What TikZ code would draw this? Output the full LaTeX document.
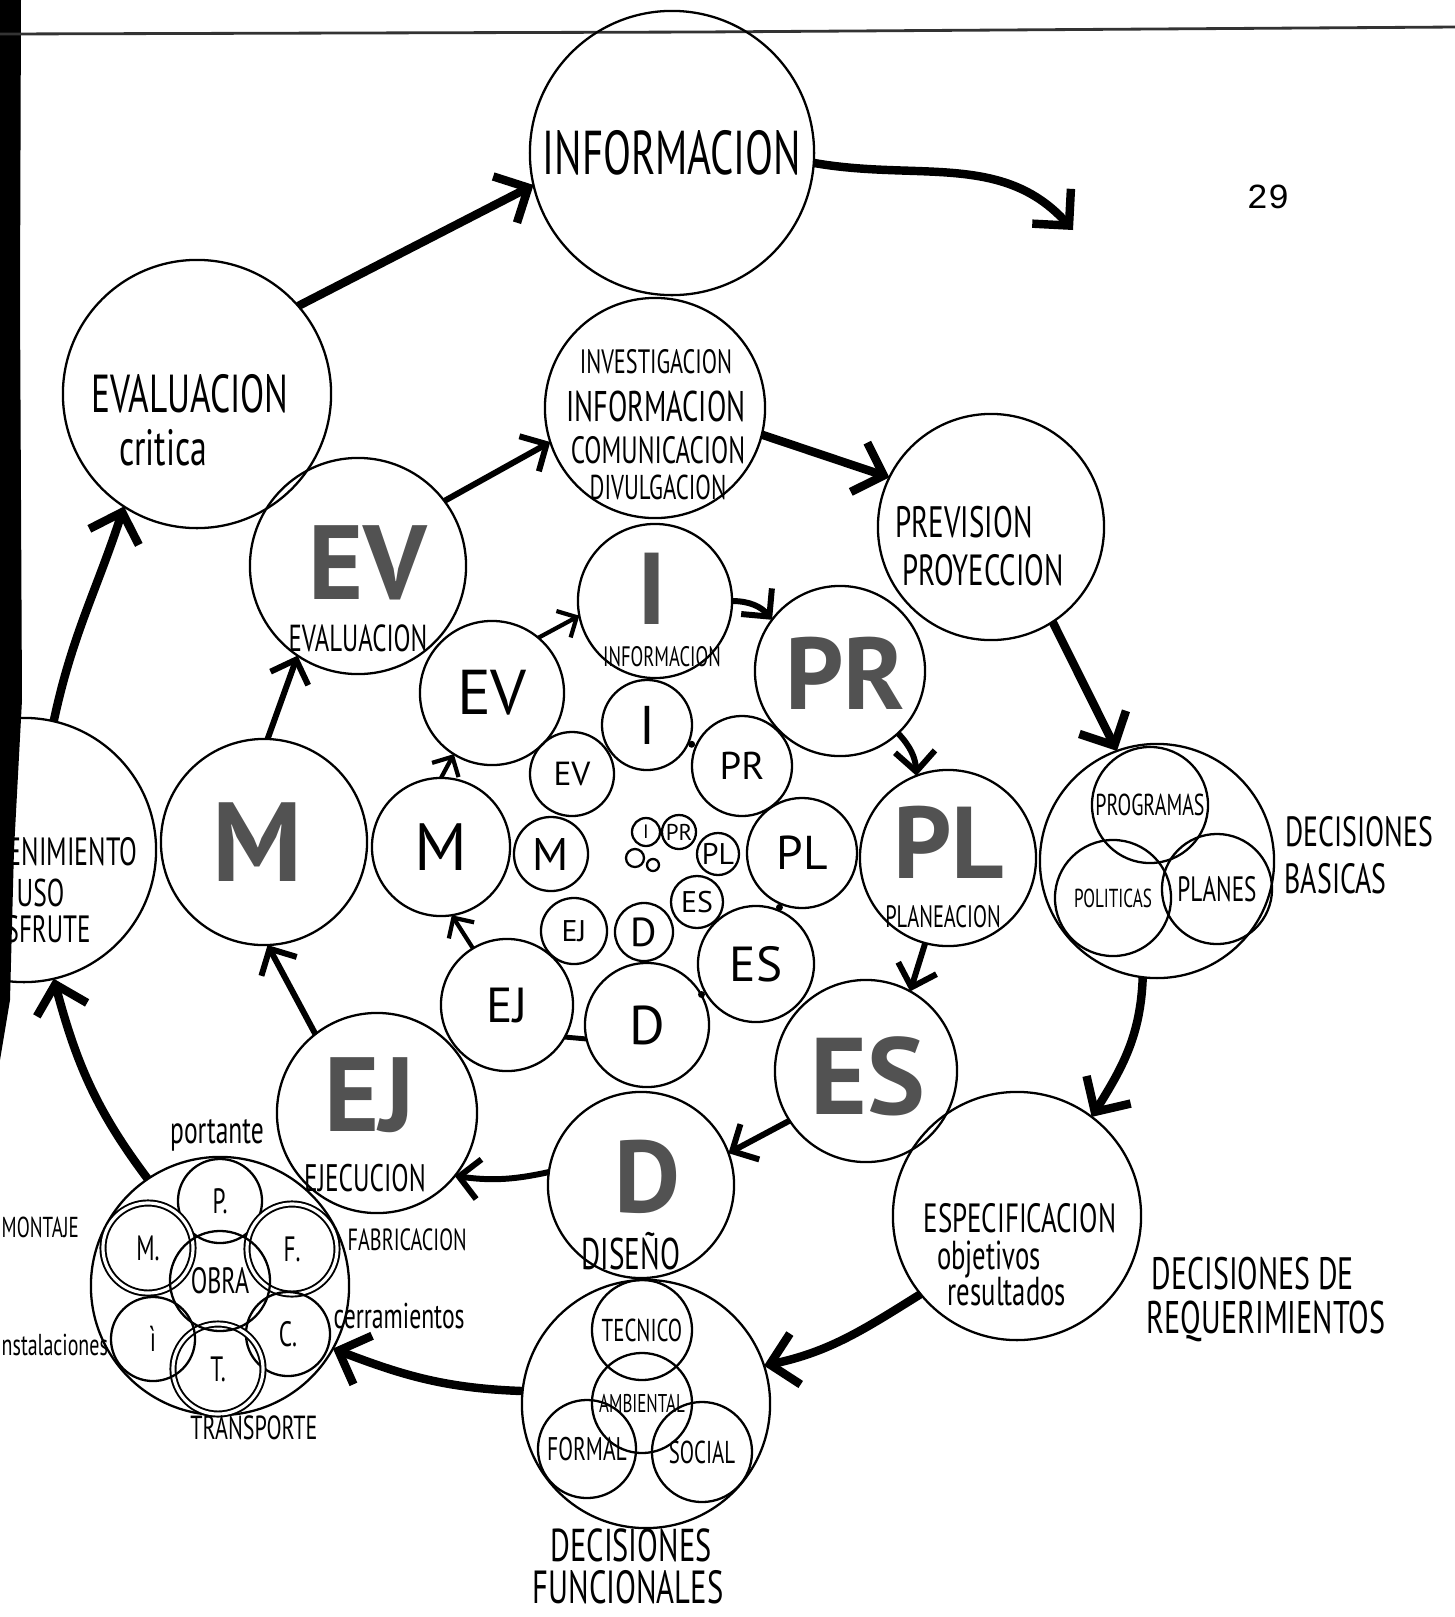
\documentclass[tikz,border=0pt]{standalone}
\usepackage{fontspec}
\setmainfont{PT Sans}[FakeStretch=0.66]
\newfontfamily\plainfont{PT Sans}
\newfontfamily\numfont{Liberation Mono}
\usetikzlibrary{arrows.meta,calc}
\newcommand\sz[1]{\fontsize{#1}{#1}\selectfont}

\begin{document}
\begin{tikzpicture}[x=0.01cm, y=0.01cm,
  ring/.style={draw, circle, inner sep=0pt, outer sep=0pt, line width=0.65pt},
  rad/.style={minimum size=#1*0.02cm},
  dbl/.style={double, double distance=0.9pt, line width=0.55pt},
  txt/.style={inner sep=0pt, font=\sz{#1}},
  ltr/.style={inner sep=0pt, font=\plainfont\sz{#1}},
  hatch/.style={inner sep=0pt, font=\plainfont\bfseries\sz{#1}, text=black!68},
  hatch/.default=31,
  outarr/.style={line width=2.4pt, -{Straight Barb[length=2.6mm, width=5.2mm]}},
  ringarr/.style={line width=1.7pt, -{Straight Barb[length=2mm, width=4mm]}},
  innarr/.style={line width=1.2pt, -{Straight Barb[length=1.5mm, width=3mm]}},
]
\useasboundingbox (0,0) rectangle (1455,-1617);
\clip (0,0) rectangle (1455,-1617);

% edge of the scanned page
\fill (0,0) -- (21,0) -- (20,-300) -- (22,-700) -- (14,-850) -- (10,-1000) -- (0,-1060) -- cycle;
\draw[line width=0.8pt, black!80] (0,-34) -- (700,-32) -- (1455,-27);
\node (pagenum) [font=\numfont\sz{10}] at (1268,-197) {29};

% outer ring
\node (info) [ring, rad=142, txt=17.6] at (672,-153) {INFORMACION};

\node (evalc) [ring, rad=134] at (197,-394) {};
\node (evalct1) [txt=15.2] at (190,-394) {EVALUACION};
\node (evalct2) [txt=14.5] at (163,-448) {critica};

\node (invest) [ring, rad=110] at (655,-408) {};
\node (investt1) [txt=9.6] at (656,-362) {INVESTIGACION};
\node (investt2) [txt=12.2] at (656,-406) {INFORMACION};
\node (investt3) [txt=10.8] at (658,-450) {COMUNICACION};
\node (investt4) [txt=9.8] at (658,-487) {DIVULGACION};

\node (prev) [ring, rad=113] at (991,-527) {};
\node (prevt1) [txt=12.5] at (964,-522) {PREVISION};
\node (prevt2) [txt=12.4] at (983,-570) {PROYECCION};

\node (basic) [ring, rad=117] at (1157,-861) {};
\node (prog) [ring, rad=58, txt=8.6] at (1150,-805) {PROGRAMAS};
\node (polit) [ring, rad=58, txt=7.4] at (1113,-898) {POLITICAS};
\node (planes) [ring, rad=55, txt=10] at (1217,-889) {PLANES};
\node (basict1) [txt=12, anchor=west] at (1285,-832) {DECISIONES};
\node (basict2) [txt=12, anchor=west] at (1284,-879) {BASICAS};

\node (espec) [ring, rad=124] at (1017,-1216) {};
\node (espect1) [txt=11.6] at (1020,-1218) {ESPECIFICACION};
\node (espect2) [txt=11.5] at (989,-1259) {objetivos};
\node (espect3) [txt=11.5] at (1007,-1292) {resultados};
\node (requt1) [txt=12.9, anchor=west] at (1151,-1274) {DECISIONES DE};
\node (requt2) [txt=13, anchor=west] at (1146,-1321) {REQUERIMIENTOS};

\node (func) [ring, rad=124] at (646,-1404) {};
\node (tecn) [ring, rad=50, txt=9] at (642,-1330) {TECNICO};
\node (ambi) [ring, rad=50, txt=7.3] at (642,-1403) {AMBIENTAL};
\node (form) [ring, rad=49, txt=9.3] at (587,-1449) {FORMAL};
\node (soci) [ring, rad=50, txt=9] at (702,-1452) {SOCIAL};
\node (funct1) [txt=13.1] at (631,-1545) {DECISIONES};
\node (funct2) [txt=13.2] at (628,-1587) {FUNCIONALES};

\node (obra) [ring, rad=129] at (220,-1286) {};
\node (op) [ring, rad=42, txt=10] at (220,-1201) {P.};
\node (om) [ring, dbl, rad=45, txt=10] at (148,-1248) {M.};
\node (of) [ring, dbl, rad=45, txt=10] at (292,-1249) {F.};
\node (oc) [ring, rad=42, txt=10] at (288,-1334) {C.};
\node (ot) [ring, dbl, rad=45, txt=10] at (218,-1369) {T.};
\node (oi) [ring, rad=42, txt=10] at (153,-1339) {ì};
\node (oo) [ring, rad=50, txt=10.4] at (220,-1281) {OBRA};
\node (obrat1) [txt=11] at (217,-1135) {portante};
\node (obrat2) [txt=8.2, anchor=west] at (1,-1227) {MONTAJE};
\node (obrat3) [txt=8.6, anchor=west] at (1,-1345) {nstalaciones};
\node (obrat4) [txt=8.7, anchor=west] at (347,-1240) {FABRICACION};
\node (obrat5) [txt=10.2, anchor=west] at (333,-1316) {cerramientos};
\node (obrat6) [txt=9.5] at (254,-1428) {TRANSPORTE};

\node (mant) [ring, rad=132] at (24,-850) {};
\node (mantt1) [txt=11.2, anchor=west] at (7,-852) {ENIMIENTO};
\node (mantt2) [txt=11, anchor=west] at (16,-893) {USO};
\node (mantt3) [txt=10.8, anchor=west] at (5,-929) {SFRUTE};

% second ring, hatched letters
\node (ev2) [ring, rad=108] at (358,-566) {};
\node (ev2l) [hatch=30] at (368,-563) {EV};
\node (ev2t) [txt=10.7] at (358,-638) {EVALUACION};
\node (i2) [ring, rad=77] at (655,-601) {};
\node (i2l) [hatch=29] at (652,-589) {I};
\node (i2t) [txt=8] at (662,-657) {INFORMACION};
\node (pr2) [ring, rad=85] at (840,-671) {};
\node (pr2l) [hatch=29] at (845,-673) {PR};
\node (pl2) [ring, rad=88] at (948,-858) {};
\node (pl2l) [hatch=29] at (949,-842) {PL};
\node (pl2t) [txt=8.8] at (943,-917) {PLANEACION};
\node (es2) [ring, rad=91] at (866,-1071) {};
\node (es2l) [hatch] at (868,-1076) {ES};
\node (d2) [ring, rad=93] at (641,-1185) {};
\node (d2l) [hatch=29] at (647,-1177) {D};
\node (d2t) [txt=12.6] at (631,-1251) {DISEÑO};
\node (ej2) [ring, rad=100] at (377,-1113) {};
\node (ej2l) [hatch=30] at (370,-1095) {EJ};
\node (ej2t) [txt=10.9] at (365,-1178) {EJECUCION};
\node (m2) [ring, rad=103] at (264,-842) {};
\node (m2l) [hatch=32] at (258,-842) {M};

% third ring
\node (ev3) [ring, rad=72, ltr=18] at (492,-693) {EV};
\node (i3) [ring, rad=45, ltr=15.5] at (647,-725) {I};
\node (pr3) [ring, rad=50, ltr=11] at (742,-766) {PR};
\node (pl3) [ring, rad=55, ltr=13.5] at (802,-853) {PL};
\node (es3) [ring, rad=58, ltr=14] at (756,-964) {ES};
\node (d3) [ring, rad=62, ltr=15.5] at (647,-1025) {D};
\node (ej3) [ring, rad=66, ltr=14] at (507,-1005) {EJ};
\node (m3) [ring, rad=69, ltr=19] at (441,-847) {M};

% fourth ring
\node (ev4) [ring, rad=42, ltr=9.5] at (572,-774) {EV};
\node (m4) [ring, rad=37, ltr=13] at (551,-854) {M};
\node (ej4) [ring, rad=33, ltr=8.5] at (574,-931) {EJ};
\node (d4) [ring, rad=29, ltr=11.5] at (644,-932) {D};
\node (es4) [ring, rad=26, ltr=8.5] at (697,-902) {ES};
\node (pl4) [ring, rad=21, ltr=8.5] at (718,-854) {PL};
\node (pr4) [ring, rad=17, ltr=6.5] at (679,-832) {PR};
\node (i4) [ring, rad=14, ltr=5.5] at (646,-832) {I};
\node (tiny2) [ring, rad=9] at (635,-858) {};
\node (tiny1) [ring, rad=6] at (653,-865) {};

% outer arrows
\coordinate (outend) at (1073,-230);
\draw[outarr] (evalc.41) -- (info.193);
\draw[outarr] (info.-4) to[out=-10, in=132] (outend);
\draw[outarr] (invest.-14) -- (prev.154);
\draw[outarr] (prev.-57) -- (basic.110);
\draw[outarr] (basic.-97) to[out=-92, in=58] (espec.53);
\draw[outarr] (espec.-141) to[out=-148, in=12] (func.18);
\draw[outarr] (func.174) to[out=178, in=-21] (obra.-29);
\draw[outarr] (obra.124) to[out=127, in=-75] (mant.-77);
\draw[outarr] (mant.77) to[out=78, in=-108] (evalc.-123);

% second ring arrows
\draw[ringarr] (m2.88) -- (ev2.-124);
\draw[ringarr] (ev2.37) -- (invest.-162);
\draw[ringarr] (i2.0) to[bend left=25] (pr2.143);
\draw[ringarr] (pr2.-47) to[bend left=20] (pl2.111);
\draw[ringarr] (pl2.-105) -- (es2.61);
\draw[ringarr] (es2.-147) -- (d2.20);
\draw[ringarr] (d2.172) to[bend left=10] (ej2.-39);
\draw[ringarr] (ej2.128) -- (m2.-88);

% third ring arrows and links
\draw[innarr] (ev3.50) -- (i2.-169);
\draw[innarr] (m3.90) -- (ev3.-122);
\draw[innarr] (ej3.121) -- (m3.-81);
\draw[line width=1.4pt] (ej3.-29) -- (d3.-167);
\fill ($(i3)!0.47!(pr3)$) circle (3.5);
\fill ($(pl3)!0.49!(es3)$) circle (3.5);
\fill ($(d3)!0.5!(es3)$) circle (3.5);
\end{tikzpicture}
\end{document}
